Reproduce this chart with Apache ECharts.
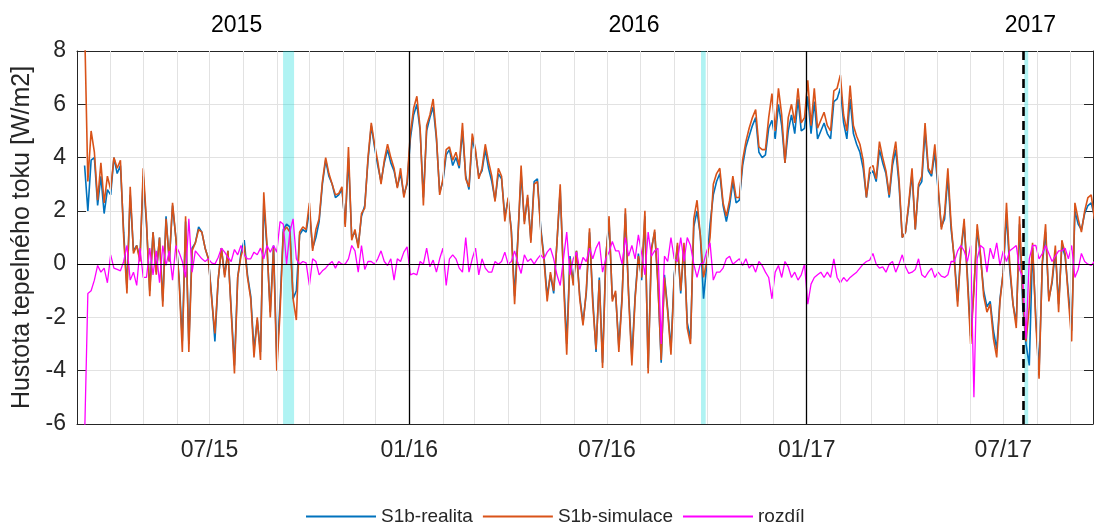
<!DOCTYPE html>
<html>
<head>
<meta charset="utf-8">
<script src="https://cdn.jsdelivr.net/npm/echarts@6/dist/echarts.min.js"></script>
<style>
  html, body { margin: 0; padding: 0; background: #ffffff; }
  #chart { width: 1094px; height: 523px; }
</style>
</head>
<body>
<div id="chart"></div>
<script>
// Daily heat flux density, sampled every 3 days from 8 March 2015
const sampleStart = [2015, 2, 8];
const sampleStepDays = 3;

const seriesNames = ['S1b-realita', 'S1b-simulace', 'rozdíl'];

const realita = [
  3.7, 2.0, 3.9, 4.0, 2.2, 3.3, 1.9, 2.8, 2.6, 4.0,
  3.4, 3.7, 1.2, -0.9, 2.6, 0.5, 0.7, 0.2, 3.3, 1.5,
  -1.0, 1.2, -0.3, 1.0, -1.4, 1.8, 0.1, 2.2, 1.0, -0.5,
  -2.9, 1.6, -3.0, 0.6, 0.8, 1.4, 1.2, 0.6, 0.2, -1.2,
  -2.9, -0.6, 0.6, -0.4, 0.5, -1.7, -3.8, -0.5, 0.4, 0.9,
  -0.4, -1.2, -3.2, -2.1, -3.3, 2.3, 0.6, -1.8, 0.7, -3.6,
  -1.5, 1.3, 1.5, 1.4, -1.3, -1.0, 1.1, 1.3, 1.2, 2.0,
  0.6, 1.0, 1.6, 3.0, 3.9, 3.3, 3.0, 2.5, 2.6, 2.8,
  1.5, 4.0, 1.0, 1.2, 0.7, 1.8, 2.2, 3.9, 5.2, 4.4,
  3.7, 3.1, 3.8, 4.3, 3.8, 3.5, 2.9, 3.4, 2.6, 3.0,
  4.7, 5.6, 6.0, 5.0, 2.5, 5.0, 5.5, 5.9, 4.7, 2.7,
  3.1, 4.1, 4.3, 3.7, 4.0, 3.6, 5.0, 3.3, 2.8, 4.7,
  4.2, 3.3, 3.5, 4.3, 3.6, 3.1, 2.4, 3.4, 3.2, 1.8,
  2.4, 1.3, -1.2, 1.0, 3.4, 1.6, 2.5, 0.9, 3.1, 3.2,
  1.4, 0.3, -1.2, -0.4, -1.1, 0.8, 2.8, -0.4, -3.0, 0.3,
  -0.7, 0.5, -1.2, -2.2, -1.1, 1.2, -1.3, -3.3, -0.5, -3.7,
  0.3, 1.6, -1.3, -1.1, -3.1, -1.2, 1.9, -1.1, -3.5, -1.2,
  0.4, -0.6, 1.8, -3.9, 0.6, 1.2, -0.7, -3.7, -0.4, -1.7,
  -3.2, -0.4, 0.7, -1.1, 0.7, -2.2, -2.8, 1.4, 2.0, 1.1,
  -1.3, 0.0, 1.5, 2.6, 3.1, 3.4, 2.2, 1.6, 2.2, 3.1,
  2.3, 2.4, 3.7, 4.4, 4.8, 5.2, 5.5, 4.2, 4.0, 4.1,
  5.1, 5.4, 4.7, 6.0, 5.2, 3.8, 5.0, 5.6, 4.9, 6.2,
  5.0, 5.1, 6.3, 4.9, 6.1, 4.7, 5.0, 5.3, 4.9, 4.7,
  6.1, 6.2, 6.6, 5.3, 4.7, 6.2, 4.9, 4.5, 4.2, 3.6,
  2.5, 3.4, 3.5, 3.1, 4.3, 3.8, 3.4, 2.5, 3.7, 4.3,
  3.0, 1.0, 1.2, 2.2, 3.4, 1.3, 2.9, 3.1, 5.0, 3.5,
  3.3, 4.2, 2.8, 1.4, 1.7, 3.3, 1.3, 0.2, -1.4, 0.5,
  1.5, -0.4, -2.7, -0.9, 1.3, 0.3, -1.0, -1.6, -1.4, -2.5,
  -3.2, -1.3, -0.3, 1.9, -0.2, -1.5, -2.2, 1.5, -1.6, -3.0,
  -3.8, 0.6, -2.0, -4.0, 0.0, 1.2, -1.3, -0.7, 0.5, -1.5,
  0.7, 0.3, -1.1, -2.5, 2.0, 1.5, 1.3, 1.9, 2.2, 2.3, 1.8
];

const simulace = [
  9.0, 3.1, 5.0, 4.2, 2.4, 3.8, 2.3, 3.3, 2.8, 4.0,
  3.6, 3.9, 1.0, -1.1, 2.9, 0.4, 0.7, 0.1, 3.6, 1.6,
  -1.2, 1.2, -0.4, 1.0, -1.6, 1.7, 0.1, 2.3, 1.0, -0.6,
  -3.3, 1.8, -3.3, 0.5, 0.8, 1.3, 1.2, 0.6, 0.2, -1.3,
  -2.6, -0.6, 0.6, -0.5, 0.5, -1.8, -4.1, -0.5, 0.3, 0.7,
  -0.5, -1.3, -3.5, -2.0, -3.6, 2.7, 0.7, -2.0, 0.6, -4.0,
  -1.8, 1.2, 1.4, 1.2, -1.3, -2.1, 1.2, 1.4, 1.3, 2.3,
  0.5, 1.3, 1.7, 3.1, 4.0, 3.4, 3.0, 2.6, 2.65, 2.9,
  1.4, 4.4, 0.9, 1.3, 0.6, 1.9, 2.1, 4.0, 5.3, 4.5,
  3.85, 3.0, 3.9, 4.5, 4.0, 3.6, 2.85, 3.6, 2.5, 3.1,
  4.9, 5.85, 6.3, 5.1, 2.2, 5.2, 5.6, 6.2, 4.8, 2.6,
  3.2, 4.3, 4.4, 3.9, 4.2, 3.7, 5.3, 3.2, 2.9, 4.9,
  4.3, 3.2, 3.6, 4.5, 3.85, 3.3, 2.35, 3.6, 3.3, 1.6,
  2.5, 1.2, -1.5, 0.9, 3.7, 1.5, 2.6, 0.8, 3.0, 3.1,
  1.3, 0.2, -1.4, -0.3, -1.0, 0.8, 3.0, -0.6, -3.4, 0.2,
  -0.8, 0.5, -1.3, -2.3, -1.0, 1.35, -1.5, -3.2, -0.6, -3.9,
  0.2, 1.8, -1.4, -1.0, -3.3, -1.3, 2.1, -1.2, -3.8, -1.3,
  0.3, -0.5, 2.0, -4.1, 0.5, 1.3, -0.8, -3.6, -0.5, -1.8,
  -3.4, -0.5, 0.8, -1.0, 0.8, -2.4, -3.0, 1.7, 2.4, 1.1,
  -0.5, 0.1, 1.0, 3.0, 3.4, 3.6, 2.3, 1.8, 2.4, 3.3,
  2.5, 2.5, 3.9, 4.6, 5.1, 5.5, 5.8, 4.4, 4.3, 4.3,
  5.5, 6.4, 5.0, 6.6, 5.6, 3.8, 5.5, 6.0, 5.3, 6.6,
  5.3, 5.5, 6.9, 5.2, 6.6, 5.1, 5.4, 5.7, 5.2, 5.0,
  6.5, 6.6, 7.1, 5.6, 5.0, 6.7, 5.2, 4.8, 4.5, 3.9,
  2.5, 3.6, 3.7, 3.2, 4.6, 4.0, 3.5, 2.6, 3.9, 4.6,
  3.2, 1.0, 1.2, 2.3, 3.6, 1.3, 3.0, 3.3, 5.3, 3.6,
  3.4, 4.5, 3.0, 1.3, 1.9, 3.6, 1.5, 0.1, -1.6, 0.5,
  1.7, -0.6, -3.0, -1.0, 1.5, 0.4, -1.2, -1.8, -1.5, -2.8,
  -3.5, -1.4, -0.3, 2.3, 0.0, -1.5, -2.4, 1.8, -1.2, -2.9,
  -1.6, 0.8, -2.2, -4.3, 0.1, 1.5, -1.4, -0.6, 0.7, -1.8,
  0.9, 0.4, -1.3, -2.9, 2.3, 1.7, 1.2, 2.0, 2.5, 2.6, 1.7
];

const rozdil = [
  -6.5, -1.1, -1.0, -0.6, -0.05, -0.3, -0.15, -0.7, 0.35, -0.15,
  -0.2, -0.25, 0.1, 0.7, -0.6, -0.3, -0.8, 0.6, -0.5, -0.5,
  0.6, -0.4, 0.5, -0.7, 0.7, -0.05, 0.5, -0.6, 0.7, 0.45,
  0.1, -0.5, 1.7, -0.3, 0.5, 0.35, 0.2, 0.1, 0.2, 0.05,
  0.0, 0.25, 0.6, 0.45, 0.25, 0.1, 0.55, 0.35, 0.7, 0.35,
  0.2, 0.2, 0.45, 0.35, 0.6, 0.2, 0.7, 0.45, 0.7, 0.45,
  1.6, 1.5, 0.0, 1.2, 1.7, 0.2, 0.0, 0.1, 0.05, -0.8,
  0.2, 0.1, -0.4, -0.25, -0.15, 0.0, 0.1, -0.15, 0.1, 0.0,
  0.0, 0.2, 0.7, 0.5, -0.3, 0.7, -0.2, 0.1, 0.1, 0.0,
  0.2, 0.5, 0.1, -0.05, 0.2, -0.6, 0.2, 0.1, 0.45, 0.65,
  -0.4, -0.35, -0.4, 0.1, 0.0, 0.6, -0.1, 0.15, -0.3, 0.2,
  0.6, -0.8, 0.2, 0.35, 0.2, -0.15, -0.3, 1.0, -0.3, 0.2,
  0.6, -0.4, 0.2, -0.15, -0.3, -0.3, 0.1, 0.0, 0.1, 0.45,
  0.0, 0.1, 0.5, 0.05, -0.35, 0.35, 0.1, 0.2, 0.0, 0.2,
  0.35, 0.2, 0.45, 0.6, 0.2, -0.4, -0.8, 0.2, 1.2, -0.4,
  0.2, 0.45, -0.2, 0.25, 0.1, 0.6, 0.2, 0.6, 0.85, -0.3,
  0.2, 0.45, 0.85, 0.5, 0.5, 0.0, 1.0, 0.3, 0.7, 0.2,
  1.1, 0.4, -0.4, 1.2, 0.3, 0.5, 0.6, -3.0, 0.3, 0.1,
  1.0, 0.2, 0.1, 1.0, 0.1, 1.0, 0.7, 0.0, -0.5, 0.0,
  0.05, 0.5, 0.8, -0.6, -0.3, -0.3, -0.15, 0.2, 0.3, 0.0,
  0.1, 0.2, -0.05, 0.2, -0.15, 0.0, -0.3, 0.1, -0.05, -0.3,
  -0.5, -1.3, -0.3, -0.05, -0.5, 0.1, -0.1, -0.5, -0.3, -0.6,
  -0.4, 0.0, -1.5, -0.75, -0.5, -0.4, -0.3, -0.5, -0.3, -0.5,
  0.2, -0.5, -0.7, -0.5, -0.65, -0.5, -0.4, -0.3, -0.15, 0.0,
  0.1, 0.15, 0.4, 0.0, -0.15, -0.1, -0.3, 0.0, 0.1, -0.3,
  0.0, 0.35, -0.1, -0.35, -0.3, -0.2, 0.2, -0.4, -0.5, -0.3,
  -0.15, -0.5, -0.3, -0.45, -0.5, -0.4, 0.1, 0.1, 0.5, 0.7,
  0.5, 0.1, 0.7, -5.0, 0.2, 0.7, 0.6, -0.3, 0.6, 0.2,
  0.8, -0.05, 0.5, 0.1, 0.5, 0.6, 0.7, -0.2, -0.5, -2.8,
  0.2, 0.7, 0.7, 0.2, 0.4, 0.7, 0.4, 0.1, 0.3, 0.5,
  0.5, 0.6, 0.2, 0.7, -0.5, -0.2, 0.4, 0.1, 0.0, -0.05, 0.1
];

// Axis range and markers
const yearLabels = ['2015', '2016', '2017'];
const yearBoundaries = [[2016, 0, 1], [2017, 0, 1]];
const evaluationStart = [2017, 6, 19, 12];
const highlightPeriods = [
  [[2015, 8, 6, 18], [2015, 8, 16, 22]],
  [[2016, 8, 25, 16], [2016, 8, 30, 0]],
  [[2017, 6, 20, 10], [2017, 6, 24, 0]]
];

const ts = (a) => new Date(a[0], a[1], a[2], a[3] || 0).getTime();
const xMin = ts([2015, 2, 1]);
const xMax = ts([2017, 8, 21, 16]);

const sampleDates = realita.map((_, i) =>
  new Date(sampleStart[0], sampleStart[1], sampleStart[2] + i * sampleStepDays).getTime());

// month starts for ticks and grid
const monthTicks = [];
for (let y = 2015, m = 3; ; ) {
  const t = new Date(y, m, 1).getTime();
  if (t > xMax) break;
  monthTicks.push(t);
  m++; if (m > 11) { m = 0; y++; }
}
const halfYearTicks = monthTicks.filter(t => [0, 6].includes(new Date(t).getMonth()));
const yearLabelDates = yearLabels.map(y => new Date(+y, 6, 26).getTime());

const pad = n => (n < 10 ? '0' : '') + n;
const fmtMonth = v => {
  const d = new Date(v);
  return pad(d.getMonth() + 1) + '/' + String(d.getFullYear()).slice(2);
};

const FONT = 'Liberation Sans, Arial, Helvetica, sans-serif';
const TXT = '#262626';
const GRID = '#e2e2e2';

const pair = arr => arr.map((v, i) => [sampleDates[i], v]);

const chart = echarts.init(document.getElementById('chart'), null, { renderer: 'canvas' });

chart.setOption({
  animation: false,
  backgroundColor: '#ffffff',
  textStyle: { fontFamily: FONT },
  grid: { left: 77, top: 51, width: 1016, height: 373, containLabel: false, outerBoundsMode: 'none' },
  legend: {
    data: seriesNames,
    left: 301, top: 502,
    icon: 'rect', itemWidth: 70, itemHeight: 2, itemGap: 10,
    textStyle: { fontSize: 19, color: TXT, fontFamily: FONT }
  },
  xAxis: [{
    type: 'value', min: xMin, max: xMax, position: 'bottom', scale: true,
    axisLine: { show: true, onZero: false, lineStyle: { color: TXT, width: 1 } },
    axisTick: { show: true, inside: true, length: 9, customValues: monthTicks, lineStyle: { color: TXT, width: 1 } },
    axisLabel: { customValues: halfYearTicks, formatter: fmtMonth, fontSize: 23, color: TXT, margin: 15, fontFamily: FONT },
    splitLine: { show: false }
  }, {
    type: 'value', min: xMin, max: xMax, position: 'top', scale: true,
    axisLine: { show: true, onZero: false, lineStyle: { color: TXT, width: 1 } },
    axisTick: { show: true, inside: true, length: 9, customValues: monthTicks, lineStyle: { color: TXT, width: 1 } },
    axisLabel: { customValues: yearLabelDates, formatter: v => String(new Date(v).getFullYear()), fontSize: 23, color: '#000000', margin: 14, fontFamily: FONT },
    splitLine: { show: false }
  }],
  yAxis: [{
    type: 'value', min: -6, max: 8, interval: 2, position: 'left',
    name: 'Hustota tepelného toku [W/m2]', nameLocation: 'middle', nameGap: 42,
    nameTextStyle: { fontSize: 25, color: TXT, fontFamily: FONT },
    axisLine: { show: true, onZero: false, lineStyle: { color: TXT, width: 1 } },
    axisTick: { show: true, inside: true, length: 9, lineStyle: { color: TXT } },
    axisLabel: { fontSize: 23, color: TXT, margin: 11, fontFamily: FONT },
    splitLine: { show: true, lineStyle: { color: GRID, width: 1 } }
  }, {
    type: 'value', min: -6, max: 8, interval: 2, position: 'right',
    axisLine: { show: true, onZero: false, lineStyle: { color: TXT, width: 1 } },
    axisTick: { show: true, inside: true, length: 9, lineStyle: { color: TXT } },
    axisLabel: { show: false },
    splitLine: { show: false }
  }],
  series: [{
    // monthly vertical grid
    name: 'monthGrid', type: 'line', data: [], z: 1, silent: true,
    markLine: {
      silent: true, symbol: ['none', 'none'], label: { show: false },
      lineStyle: { color: GRID, width: 1, type: 'solid' },
      data: monthTicks.map(t => ({ xAxis: t }))
    }
  }, {
    name: seriesNames[0], type: 'line', data: pair(realita),
    showSymbol: false, symbol: 'none', clip: true, z: 2,
    lineStyle: { color: '#0072BD', width: 1.6 }, itemStyle: { color: '#0072BD' }
  }, {
    name: seriesNames[1], type: 'line', data: pair(simulace),
    showSymbol: false, symbol: 'none', clip: true, z: 3,
    lineStyle: { color: '#D95319', width: 1.6 }, itemStyle: { color: '#D95319' }
  }, {
    name: seriesNames[2], type: 'line', data: pair(rozdil),
    showSymbol: false, symbol: 'none', clip: true, z: 4,
    lineStyle: { color: '#FF00FF', width: 1.3 }, itemStyle: { color: '#FF00FF' }
  }, {
    // reference lines and highlighted periods
    name: 'markers', type: 'line', data: [], z: 6, silent: true,
    markArea: {
      silent: true,
      itemStyle: { color: 'rgba(0, 215, 215, 0.31)' },
      data: highlightPeriods.map(p => [{ xAxis: ts(p[0]) }, { xAxis: ts(p[1]) }])
    },
    markLine: {
      silent: true, symbol: ['none', 'none'], label: { show: false },
      data: [
        { yAxis: 0, lineStyle: { color: '#000000', width: 1.2, type: 'solid' } },
        ...yearBoundaries.map(d => ({ xAxis: ts(d), lineStyle: { color: '#000000', width: 1.3, type: 'solid' } })),
        { xAxis: ts(evaluationStart), lineStyle: { color: '#000000', width: 2.6, type: [9, 5] } }
      ]
    }
  }]
});
</script>
</body>
</html>
